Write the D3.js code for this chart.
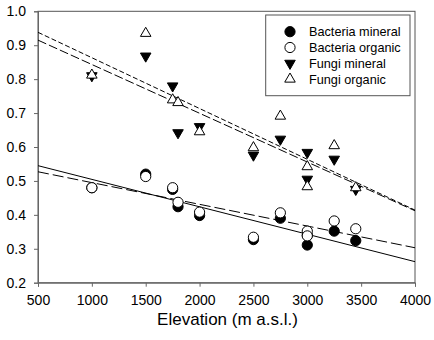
<html>
<head>
<meta charset="utf-8">
<style>
  body { margin: 0; background: #fff; }
  text { font-family: "Liberation Sans", Arial, sans-serif; fill: #000; }
</style>
</head>
<body>
<script src="https://d3js.org/d3.v7.min.js"></script>
<script>
// elevation of each sampling site (two plots at 3000 m)
var elevation = [1000, 1500, 1750, 1800, 2000, 2500, 2750, 3000, 3000, 3250, 3450];
var bacteriaMineral = [0.48, 0.52, 0.475, 0.424, 0.398, 0.327, 0.39, 0.311, 0.34, 0.352, 0.324];
var bacteriaOrganic = [0.48, 0.513, 0.48, 0.437, 0.408, 0.334, 0.406, 0.352, 0.338, 0.382, 0.359];
var fungiMineral = [0.81, 0.868, 0.78, 0.642, 0.66, 0.576, 0.623, 0.584, 0.505, 0.564, 0.475];
var fungiOrganic = [0.812, 0.935, 0.739, 0.731, 0.645, 0.598, 0.691, 0.542, 0.483, 0.604, 0.48];

// regression lines, values at the two ends of the x range
var fitX = [500, 4000];
var fitBacteriaMineral = [0.545, 0.262];
var fitBacteriaOrganic = [0.527, 0.303];
var fitFungiMineral = [0.915, 0.412];
var fitFungiOrganic = [0.938, 0.414];

var xTicks = [500, 1000, 1500, 2000, 2500, 3000, 3500, 4000];
var yTicks = [0.2, 0.3, 0.4, 0.5, 0.6, 0.7, 0.8, 0.9, 1.0];
var legendNames = ["Bacteria mineral", "Bacteria organic", "Fungi mineral", "Fungi organic"];

var width = 434, height = 340;
var plotL = 38, plotR = 415, plotT = 11.3, plotB = 282.7;

var x = d3.scaleLinear().domain([500, 4000]).range([plotL, plotR]);
var y = d3.scaleLinear().domain([0.2, 1.0]).range([plotB, plotT]);

var svg = d3.select("body").append("svg")
    .attr("width", width)
    .attr("height", height);

// frame
svg.append("rect")
    .attr("x", plotL).attr("y", plotT)
    .attr("width", plotR - plotL).attr("height", plotB - plotT)
    .attr("fill", "none").attr("stroke", "#555").attr("stroke-width", 1);

// axes
var xAxis = svg.append("g")
    .attr("transform", `translate(0,${plotB})`)
    .call(d3.axisBottom(x).tickValues(xTicks).tickSize(4).tickPadding(8).tickFormat(d3.format("d")));
var yAxis = svg.append("g")
    .attr("transform", `translate(${plotL},0)`)
    .call(d3.axisLeft(y).tickValues(yTicks).tickSize(4).tickPadding(8).tickFormat(d3.format(".1f")));

[xAxis, yAxis].forEach(function (a) {
    a.select(".domain").attr("stroke", "#666");
    a.selectAll(".tick line").attr("stroke", "#666");
    a.selectAll(".tick text").attr("font-size", 14).attr("fill", "#000")
        .attr("font-family", "'Liberation Sans', Arial, sans-serif");
});

svg.append("text")
    .attr("x", (plotL + plotR) / 2 + 1)
    .attr("y", 325)
    .attr("text-anchor", "middle")
    .attr("font-size", 17)
    .text("Elevation (m a.s.l.)");

// regression lines
var fits = [
    { v: fitBacteriaMineral, dash: null },
    { v: fitBacteriaOrganic, dash: "11,4" },
    { v: fitFungiMineral, dash: "9,3" },
    { v: fitFungiOrganic, dash: "5,2.5" }
];
var line = d3.line().x(function (d) { return x(d[0]); }).y(function (d) { return y(d[1]); });
svg.append("g").selectAll("path")
    .data(fits)
    .join("path")
    .attr("d", function (f) { return line(fitX.map(function (e, i) { return [e, f.v[i]]; })); })
    .attr("fill", "none")
    .attr("stroke", "#000")
    .attr("stroke-width", 1)
    .attr("stroke-dasharray", function (f) { return f.dash; });

// points
var circle = d3.symbol().type(d3.symbolCircle).size(82);
var tri = d3.symbol().type(d3.symbolTriangle).size(48);
var series = [
    { v: bacteriaMineral, sym: circle, fill: "#000", rot: 0 },
    { v: bacteriaOrganic, sym: circle, fill: "#fff", rot: 0 },
    { v: fungiMineral, sym: tri, fill: "#000", rot: 180 },
    { v: fungiOrganic, sym: tri, fill: "#fff", rot: 0 }
];
series.forEach(function (s) {
    svg.append("g").selectAll("path")
        .data(elevation.map(function (e, i) { return [e, s.v[i]]; }))
        .join("path")
        .attr("d", s.sym())
        .attr("transform", function (d) { return `translate(${x(d[0])},${y(d[1])}) rotate(${s.rot})`; })
        .attr("fill", s.fill)
        .attr("stroke", "#000")
        .attr("stroke-width", 1);
});

// legend
var lg = svg.append("g");
lg.append("rect")
    .attr("x", 265.7).attr("y", 15)
    .attr("width", 144.3).attr("height", 80.7)
    .attr("fill", "#fff").attr("stroke", "#555").attr("stroke-width", 1);
var row = lg.selectAll("g.row")
    .data(series)
    .join("g")
    .attr("class", "row")
    .attr("transform", function (d, i) { return `translate(290,${31.7 + i * 15.8})`; });
row.append("path")
    .attr("d", function (s) { return s.sym(); })
    .attr("transform", function (s) { return `rotate(${s.rot})`; })
    .attr("fill", function (s) { return s.fill; })
    .attr("stroke", "#000");
row.append("text")
    .attr("x", 19)
    .attr("dy", "0.35em")
    .attr("font-size", 12.7)
    .text(function (d, i) { return legendNames[i]; });
</script>
</body>
</html>
